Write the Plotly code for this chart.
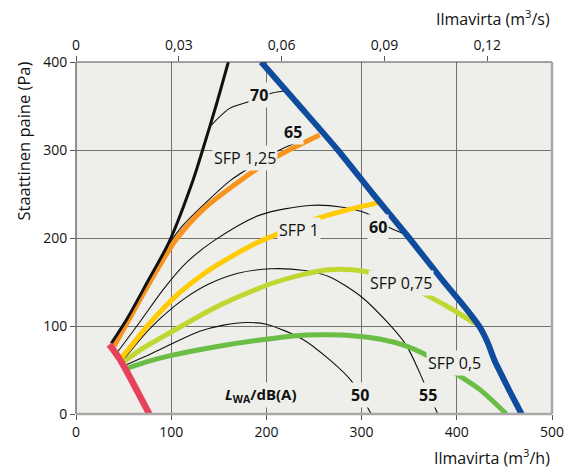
import plotly.graph_objects as go

# Fan performance chart: static pressure vs air flow, SFP curves and sound power levels

# Operating boundaries
max_x = [37, 53, 75, 98, 123, 133, 147, 160]
max_y = [80, 107, 150, 196, 266, 300, 350, 400]

min_x = [35, 45, 52, 77]
min_y = [79, 64, 51, 0]

limit_x = [194.5, 235, 275, 312, 350, 385, 405, 416, 424, 430, 434, 437, 440, 444, 456, 468]
limit_y = [400, 350, 300, 250, 200, 152, 126, 111, 99, 87, 77, 68, 60, 51, 25, 0]

# SFP curves
sfp125_x = [40, 60, 82, 105, 133, 173.5, 210, 256]
sfp125_y = [77, 116, 158, 198, 232, 266, 292, 317]

sfp1_x = [47.5, 60, 75, 90, 110, 135, 165, 193, 220, 250, 285, 319]
sfp1_y = [63.5, 80, 100, 118, 139, 160, 180, 196, 208, 221, 232, 240.5]

sfp075_x = [51, 70, 98, 125, 151, 180, 210, 240, 265, 290, 313, 341, 365, 392, 419]
sfp075_y = [60, 74.5, 92, 108.5, 123.5, 137.5, 150, 159, 164, 164, 160, 151, 137, 121, 103]

sfp05_x = [54, 75, 98, 150, 200, 238, 265, 290, 320, 345, 368, 382, 396, 424, 452]
sfp05_y = [52, 59.5, 66, 77, 85, 89.5, 90, 89, 85, 78, 67, 58, 48, 28, 0]

# Sound power level curves, LWA dB(A)
lw70_x = [142, 161, 182, 193, 207, 219]
lw70_y = [328, 347, 355, 360, 365, 367]

lw65_x = [93, 112, 140, 163, 190, 214, 238]
lw65_y = [186, 214, 244, 266, 285, 300, 311]

lw60_x = [44, 68, 92, 116, 145, 193, 245, 280, 305, 329, 349]
lw60_y = [71, 106, 142, 172, 197, 226, 237, 235, 228, 212, 203]

lw55_x = [50, 70, 90, 115, 140, 170, 205, 240, 266, 300, 329, 347, 361, 370, 376, 380]
lw55_y = [62, 88, 110, 132, 148, 160, 165, 163, 156, 133, 102, 78, 47, 24, 10, 0]

lw50_x = [53, 80, 105, 130, 155, 179, 200, 238, 266, 289, 302, 310]
lw50_y = [56, 69, 82, 94, 101, 104, 102, 85, 62, 38, 16, 0]

# Curve labels: text, x, y
curve_labels = [
    ("<b>70</b>", 192.7, 362),
    ("<b>65</b>", 227.7, 320.6),
    ("<b>60</b>", 317, 213),
    ("<b>55</b>", 369.6, 22),
    ("<b>50</b>", 297.8, 22),
    ("SFP 1,25", 177, 290.4),
    ("SFP 1", 234.7, 209),
    ("SFP 0,75", 341.6, 148.6),
    ("SFP 0,5", 397.6, 57.9),
    ("<b><i>L</i><sub>WA</sub>/dB(A)</b>", 194, 22),
]

x_ticks = [0, 100, 200, 300, 400, 500]
y_ticks = [0, 100, 200, 300, 400]
top_ticks = [0, 0.03, 0.06, 0.09, 0.12]
top_tick_text = ["0", "0,03", "0,06", "0,09", "0,12"]

BG = "#eeeeea"
FONT = "Open Sans"
INK = "#111111"

fig = go.Figure()


def add_line(x, y, color, width, smoothing=0.8):
    fig.add_trace(go.Scatter(
        x=x, y=y, mode="lines",
        line=dict(color=color, width=width, shape="spline", smoothing=smoothing),
        hoverinfo="skip", showlegend=False,
    ))


# thin sound level curves
for xs, ys in [(lw70_x, lw70_y), (lw65_x, lw65_y), (lw60_x, lw60_y),
               (lw55_x, lw55_y), (lw50_x, lw50_y)]:
    add_line(xs, ys, INK, 1.1)

# SFP curves
add_line(sfp125_x, sfp125_y, "#f7941d", 5)
add_line(sfp1_x, sfp1_y, "#ffcb05", 5)
add_line(sfp075_x, sfp075_y, "#bfd730", 5, smoothing=0.6)
add_line(sfp05_x, sfp05_y, "#6abd45", 5)

# boundaries
add_line(max_x, max_y, INK, 3)
add_line(min_x, min_y, "#e8425a", 6.5)
add_line(limit_x, limit_y, "#0f4c9e", 6, smoothing=0.6)

# carrier for the m3/s scale on top (invisible)
fig.add_trace(go.Scatter(
    x=top_ticks, y=[0] * len(top_ticks), xaxis="x2", yaxis="y",
    mode="markers", marker=dict(opacity=0, size=1),
    hoverinfo="skip", showlegend=False,
))

for text, x, y in curve_labels:
    size = 16
    if text.startswith("<b><i>"):
        size = 15
    fig.add_annotation(
        x=x, y=y, text=text, showarrow=False,
        font=dict(family=FONT, size=size, color=INK),
        bgcolor=BG, borderpad=1,
    )

# axis titles
fig.add_annotation(xref="paper", yref="paper", x=1.0, y=1.125, xanchor="right",
                   yanchor="middle", showarrow=False,
                   text="Ilmavirta (m<sup>3</sup>/s)",
                   font=dict(family=FONT, size=16, color=INK))
fig.add_annotation(xref="paper", yref="paper", x=1.0, y=-0.121, xanchor="right",
                   yanchor="middle", showarrow=False,
                   text="Ilmavirta (m<sup>3</sup>/h)",
                   font=dict(family=FONT, size=16, color=INK))
fig.add_annotation(xref="paper", yref="paper", x=-0.111, y=1.006, xanchor="center",
                   yanchor="top", showarrow=False, textangle=-90,
                   text="Staattinen paine (Pa)",
                   font=dict(family=FONT, size=16.5, color=INK))

# plot frame
fig.add_shape(type="line", xref="paper", yref="paper", x0=0, x1=1, y0=1, y1=1,
              line=dict(color="#4d4d4d", width=1.2))
fig.add_shape(type="line", xref="paper", yref="paper", x0=0, x1=0, y0=0, y1=1,
              line=dict(color="#4d4d4d", width=1.2))
fig.add_shape(type="line", xref="paper", yref="paper", x0=1, x1=1, y0=0, y1=1,
              line=dict(color="#a8a8a8", width=2.5))
fig.add_shape(type="line", xref="paper", yref="paper", x0=0, x1=1, y0=0, y1=0,
              line=dict(color="#a8a8a8", width=2.5))

tickfont = dict(family=FONT, size=14, color=INK)

fig.update_layout(
    width=576, height=468,
    margin=dict(l=76, r=24, t=62, b=54),
    paper_bgcolor="white",
    plot_bgcolor=BG,
    xaxis=dict(range=[0, 500], tickvals=x_ticks, showgrid=True,
               gridcolor="#707070", gridwidth=1, zeroline=False,
               ticks="outside", ticklen=5, tickcolor="#555555",
               tickfont=tickfont, showline=False, fixedrange=True),
    yaxis=dict(range=[0, 400], tickvals=y_ticks, showgrid=True,
               gridcolor="#707070", gridwidth=1, zeroline=False,
               ticks="outside", ticklen=5, tickcolor="#555555",
               tickfont=tickfont, showline=False, fixedrange=True),
    xaxis2=dict(range=[0, 500 / 3600], overlaying="x", side="top",
                tickvals=top_ticks, ticktext=top_tick_text, showgrid=False,
                zeroline=False, ticks="outside", ticklen=5,
                tickcolor="#555555", tickfont=tickfont, showline=False,
                fixedrange=True, anchor="y"),
)

fig.write_html("out.html")
